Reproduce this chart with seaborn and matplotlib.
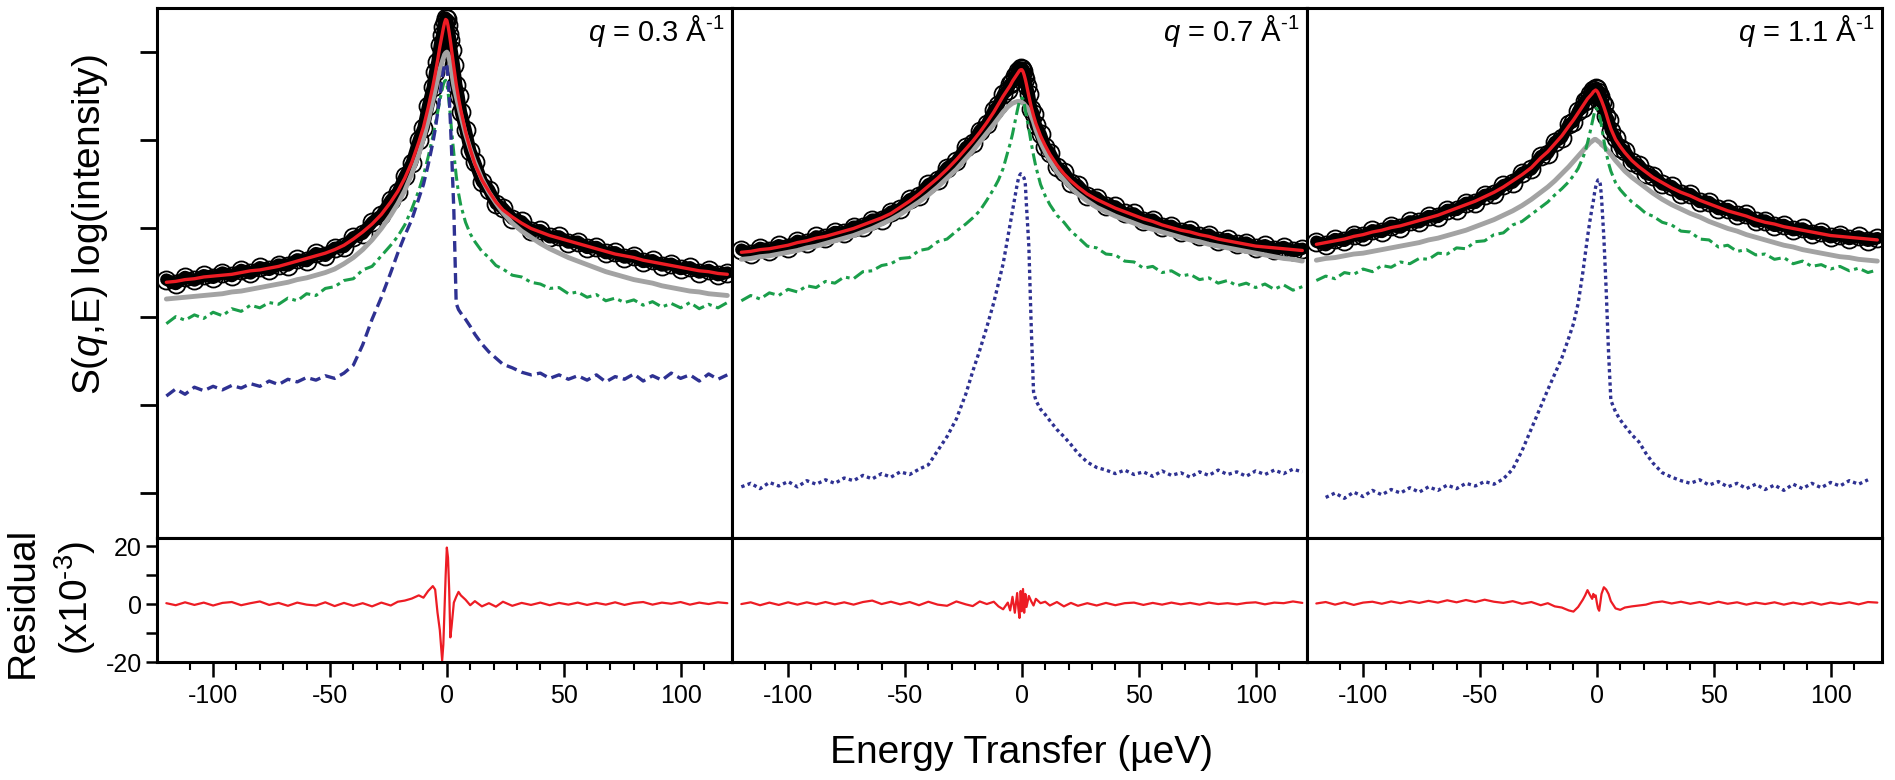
import numpy as np
import pandas as pd
import seaborn as sns
import matplotlib.pyplot as plt
from matplotlib.ticker import FixedLocator

sns.set_theme(style='ticks')
plt.rcParams['font.family'] = ['Liberation Sans', 'DejaVu Sans']
plt.rcParams['mathtext.fontset'] = 'custom'
plt.rcParams['mathtext.rm'] = 'Liberation Sans'
plt.rcParams['mathtext.it'] = 'Liberation Sans:italic'
plt.rcParams['axes.unicode_minus'] = False
plt.rcParams['axes.edgecolor'] = 'black'
plt.rcParams['axes.linewidth'] = 2.2
plt.rcParams['xtick.color'] = 'black'
plt.rcParams['ytick.color'] = 'black'
plt.rcParams['xtick.labelcolor'] = 'black'
plt.rcParams['ytick.labelcolor'] = 'black'
plt.rcParams['text.color'] = 'black'

nan = np.nan

# energy transfer grid (ueV), shared by every series
E = [-120, -116, -112, -108, -104, -100, -96, -92, -88, -84,
     -80, -76, -72, -68, -64, -60, -56, -52, -48, -44,
     -40, -36, -32, -28, -24, -21, -18, -15, -12, -10,
     -8, -6, -5, -4, -3, -2, -1.5, -1, -0.5, 0,
     0.5, 1, 1.5, 2, 3, 4, 5, 6, 8, 10,
     12, 15, 18, 21, 24, 28, 32, 36, 40, 44,
     48, 52, 56, 60, 64, 68, 72, 76, 80, 84,
     88, 92, 96, 100, 104, 108, 112, 116, 120]

q_values = ['0.3', '0.7', '1.1']

# ---- q = 0.3 (log10 intensity) ----
data_03 = [-2.58, -2.63, -2.55, -2.59, -2.53, -2.56, -2.50, -2.54, -2.47, -2.51,
           -2.44, -2.47, -2.41, -2.42, -2.35, -2.37, -2.28, -2.31, -2.22, -2.21,
           -2.10, -2.06, -1.93, -1.85, -1.68, -1.59, -1.41, -1.26, -1.00, -0.86,
           -0.61, -0.40, -0.23, -0.11, 0.08, 0.19, 0.29, 0.34, 0.39, 0.37,
           0.31, 0.21, 0.14, 0.02, -0.15, -0.37, -0.50, -0.68, -0.88, -1.12,
           -1.25, -1.47, -1.56, -1.72, -1.77, -1.89, -1.92, -2.03, -2.02, -2.10,
           -2.09, -2.16, -2.15, -2.22, -2.21, -2.28, -2.27, -2.33, -2.31, -2.38,
           -2.36, -2.42, -2.40, -2.46, -2.44, -2.50, -2.47, -2.53, -2.50]
fit_03 = [-2.61, -2.60, -2.58, -2.57, -2.55, -2.54, -2.53, -2.52, -2.50, -2.48,
          -2.47, -2.45, -2.43, -2.40, -2.37, -2.34, -2.31, -2.28, -2.24, -2.19,
          -2.12, -2.04, -1.95, -1.84, -1.70, -1.58, -1.43, -1.25, -1.02, -0.85,
          -0.63, -0.39, -0.25, -0.10, 0.06, 0.20, 0.27, 0.33, 0.37, 0.36,
          0.30, 0.22, 0.13, 0.03, -0.17, -0.36, -0.52, -0.66, -0.90, -1.10,
          -1.27, -1.45, -1.58, -1.70, -1.79, -1.87, -1.94, -2.00, -2.04, -2.08,
          -2.11, -2.14, -2.17, -2.20, -2.23, -2.26, -2.29, -2.31, -2.33, -2.36,
          -2.38, -2.40, -2.42, -2.44, -2.46, -2.48, -2.49, -2.51, -2.52]
gray_03 = [-2.80, -2.79, -2.78, -2.77, -2.76, -2.75, -2.74, -2.72, -2.71, -2.69,
           -2.67, -2.65, -2.63, -2.61, -2.58, -2.56, -2.53, -2.50, -2.46, -2.40,
           -2.33, -2.24, -2.13, -2.00, -1.85, -1.72, -1.57, -1.38, -1.16, -0.98,
           -0.78, -0.55, -0.43, -0.31, -0.20, -0.11, -0.07, -0.03, -0.01, 0.00,
           -0.02, -0.07, -0.14, -0.22, -0.38, -0.50, -0.61, -0.72, -0.93, -1.10,
           -1.25, -1.44, -1.59, -1.71, -1.82, -1.94, -2.03, -2.10, -2.17, -2.23,
           -2.28, -2.33, -2.37, -2.41, -2.45, -2.49, -2.52, -2.55, -2.58, -2.60,
           -2.62, -2.65, -2.67, -2.69, -2.71, -2.72, -2.74, -2.75, -2.76]
green_03 = [-3.08, -3.00, -3.04, -2.98, -3.02, -2.95, -2.99, -2.91, -2.94, -2.87,
            -2.90, -2.84, -2.86, -2.79, -2.82, -2.74, -2.76, -2.68, -2.66, -2.59,
            -2.57, -2.47, -2.43, -2.31, -2.19, -2.09, -1.96, -1.78, -1.57, -1.40,
            -1.19, -0.96, -0.83, -0.69, -0.55, -0.42, -0.37, -0.33, -0.32, -0.36,
            -0.45, -0.58, -0.72, -0.88, -1.15, -1.40, -1.60, -1.74, -1.93, -2.06,
            -2.15, -2.26, -2.33, -2.42, -2.46, -2.53, -2.55, -2.61, -2.63, -2.68,
            -2.67, -2.74, -2.72, -2.78, -2.75, -2.82, -2.79, -2.84, -2.81, -2.87,
            -2.83, -2.89, -2.85, -2.90, -2.84, -2.91, -2.86, -2.90, -2.84]
blue_03 = [-3.90, -3.82, -3.88, -3.80, -3.84, -3.79, -3.83, -3.78, -3.81, -3.76,
           -3.79, -3.73, -3.77, -3.71, -3.74, -3.69, -3.72, -3.67, -3.70, -3.64,
           -3.55, -3.32, -3.03, -2.78, -2.50, -2.28, -2.08, -1.90, -1.66, -1.50,
           -1.28, -1.03, -0.88, -0.70, -0.50, -0.30, -0.21, -0.15, -0.13, -0.16,
           -0.28, -0.50, -0.78, -1.10, -1.80, -2.85, -2.92, -2.96, -3.03, -3.11,
           -3.20, -3.31, -3.40, -3.47, -3.54, -3.58, -3.63, -3.66, -3.64, -3.70,
           -3.66, -3.71, -3.67, -3.72, -3.66, -3.74, -3.68, -3.71, -3.65, -3.73,
           -3.67, -3.72, -3.64, -3.70, -3.66, -3.73, -3.65, -3.71, -3.66]
resid_03 = [0.3, -0.4, 0.6, -0.3, 0.5, -0.5, 0.4, 0.7, -0.4, 0.3,
            0.9, -0.3, 0.4, -0.6, 0.5, -0.2, -0.5, 0.6, -0.7, 0.4,
            -0.6, 0.3, -0.8, 0.5, -0.5, 0.8, 1.2, 1.9, 3.0, 2.2,
            4.5, 6.2, 5.0, -2.9, -9.0, -19.5, -14.0, -2.0, 10.0, 19.5,
            16.0, 5.0, -11.5, -8.0, 0.5, 2.5, 4.2, 3.0, 1.5, -0.4,
            1.0, -0.8, 0.3, -0.9, 0.8, -0.6, 0.4, -0.3, 0.5, -0.4,
            0.4, -0.2, 0.5, -0.3, 0.4, -0.2, 0.6, -0.3, 0.4, 0.7,
            -0.2, 0.5, 0.1, 0.7, -0.2, 0.5, 0.0, 0.6, 0.3]

# ---- q = 0.7 ----
data_07 = [-2.24, -2.29, -2.22, -2.25, -2.19, -2.22, -2.14, -2.17, -2.09, -2.11,
           -2.04, -2.05, -1.98, -1.98, -1.90, -1.90, -1.81, -1.78, -1.67, -1.63,
           -1.50, -1.45, -1.31, -1.24, -1.08, -1.03, -0.89, -0.82, -0.66, -0.60,
           -0.48, -0.43, -0.36, -0.34, -0.27, -0.26, -0.21, -0.22, -0.18, -0.19,
           -0.21, -0.27, -0.30, -0.38, -0.48, -0.64, -0.70, -0.83, -0.93, -1.08,
           -1.14, -1.30, -1.36, -1.48, -1.51, -1.63, -1.65, -1.74, -1.75, -1.83,
           -1.83, -1.91, -1.90, -1.98, -1.97, -2.04, -2.02, -2.09, -2.07, -2.14,
           -2.12, -2.18, -2.16, -2.22, -2.19, -2.24, -2.21, -2.26, -2.23]
fit_07 = [-2.27, -2.26, -2.24, -2.23, -2.21, -2.19, -2.16, -2.14, -2.11, -2.09,
          -2.06, -2.03, -2.00, -1.96, -1.92, -1.88, -1.83, -1.76, -1.69, -1.61,
          -1.52, -1.43, -1.33, -1.22, -1.10, -1.01, -0.91, -0.80, -0.68, -0.59,
          -0.50, -0.42, -0.38, -0.33, -0.29, -0.25, -0.23, -0.21, -0.20, -0.20,
          -0.22, -0.26, -0.31, -0.37, -0.50, -0.62, -0.72, -0.81, -0.95, -1.06,
          -1.16, -1.28, -1.38, -1.46, -1.53, -1.61, -1.67, -1.72, -1.77, -1.81,
          -1.85, -1.89, -1.92, -1.96, -1.99, -2.02, -2.04, -2.07, -2.09, -2.12,
          -2.14, -2.16, -2.18, -2.20, -2.21, -2.22, -2.23, -2.24, -2.25]
gray_07 = [-2.35, -2.34, -2.32, -2.31, -2.29, -2.27, -2.25, -2.22, -2.20, -2.17,
           -2.14, -2.11, -2.08, -2.04, -2.00, -1.95, -1.90, -1.84, -1.77, -1.70,
           -1.62, -1.53, -1.43, -1.33, -1.21, -1.12, -1.02, -0.92, -0.82, -0.75,
           -0.68, -0.62, -0.60, -0.58, -0.57, -0.56, -0.56, -0.56, -0.56, -0.57,
           -0.58, -0.59, -0.61, -0.62, -0.66, -0.72, -0.79, -0.88, -1.02, -1.13,
           -1.23, -1.36, -1.45, -1.54, -1.61, -1.69, -1.76, -1.81, -1.86, -1.90,
           -1.94, -1.98, -2.01, -2.04, -2.07, -2.10, -2.13, -2.15, -2.18, -2.20,
           -2.22, -2.24, -2.26, -2.28, -2.30, -2.32, -2.34, -2.35, -2.37]
green_07 = [-2.82, -2.76, -2.80, -2.73, -2.76, -2.69, -2.72, -2.65, -2.67, -2.60,
            -2.62, -2.55, -2.57, -2.49, -2.48, -2.42, -2.40, -2.34, -2.33, -2.25,
            -2.23, -2.15, -2.12, -2.03, -1.95, -1.88, -1.80, -1.68, -1.55, -1.45,
            -1.32, -1.13, -1.04, -0.93, -0.80, -0.67, -0.61, -0.56, -0.53, -0.52,
            -0.53, -0.58, -0.66, -0.73, -0.87, -1.03, -1.17, -1.30, -1.50, -1.63,
            -1.73, -1.85, -1.93, -2.03, -2.10, -2.20, -2.22, -2.29, -2.30, -2.37,
            -2.38, -2.45, -2.43, -2.50, -2.48, -2.54, -2.52, -2.58, -2.56, -2.62,
            -2.59, -2.65, -2.62, -2.67, -2.63, -2.69, -2.64, -2.70, -2.66]
blue_07 = [-4.93, -4.89, -4.95, -4.88, -4.92, -4.87, -4.93, -4.86, -4.90, -4.85,
           -4.89, -4.83, -4.86, -4.80, -4.84, -4.78, -4.82, -4.76, -4.79, -4.73,
           -4.68, -4.52, -4.36, -4.16, -3.88, -3.62, -3.38, -3.12, -2.84, -2.62,
           -2.40, -2.10, -1.95, -1.80, -1.65, -1.50, -1.44, -1.40, -1.38, -1.39,
           -1.41, -1.43, -1.50, -1.75, -2.20, -3.10, -3.85, -3.95, -4.05, -4.11,
           -4.18, -4.28, -4.36, -4.45, -4.55, -4.65, -4.71, -4.74, -4.78, -4.74,
           -4.79, -4.76, -4.81, -4.75, -4.80, -4.77, -4.82, -4.76, -4.80, -4.74,
           -4.79, -4.76, -4.81, -4.75, -4.79, -4.74, -4.78, -4.73, -4.76]
resid_07 = [0.0, 0.6, -0.4, 0.5, -0.3, 0.6, -0.2, 0.6, -0.1, 0.7,
            -0.1, 0.6, -0.2, 0.7, 1.2, 0.0, 0.8, -0.1, 0.7, -0.4,
            0.8, -0.2, -0.6, 0.9, -0.1, -0.7, 0.9, 0.0, 0.8, -0.8,
            -1.8, 0.5, -2.2, 2.5, -3.0, 3.8, -1.5, -4.8, 4.5, -2.5,
            5.2, -3.0, 3.5, -1.0, 2.8, 1.0, -0.5, 1.8, 0.3, 0.8,
            -0.5, 0.7, -0.8, 0.4, -0.6, 0.3, -0.5, 0.4, -0.4, 0.3,
            0.5, -0.3, 0.4, -0.2, 0.5, -0.1, 0.4, -0.2, 0.5, 0.0,
            0.3, -0.1, 0.4, 0.6, -0.1, 0.5, 0.3, 0.9, 0.4]

# ---- q = 1.1 ----
data_11 = [-2.15, -2.19, -2.12, -2.14, -2.07, -2.09, -2.02, -2.04, -1.97, -1.99,
           -1.92, -1.93, -1.86, -1.87, -1.79, -1.79, -1.71, -1.71, -1.62, -1.61,
           -1.51, -1.48, -1.37, -1.33, -1.18, -1.15, -1.02, -0.97, -0.82, -0.79,
           -0.67, -0.63, -0.55, -0.54, -0.48, -0.48, -0.43, -0.45, -0.41, -0.42,
           -0.45, -0.50, -0.50, -0.57, -0.60, -0.72, -0.77, -0.89, -0.97, -1.09,
           -1.12, -1.25, -1.28, -1.38, -1.40, -1.50, -1.52, -1.61, -1.61, -1.70,
           -1.70, -1.78, -1.78, -1.85, -1.84, -1.92, -1.91, -1.97, -1.96, -2.02,
           -2.00, -2.06, -2.04, -2.10, -2.07, -2.12, -2.09, -2.14, -2.11]
fit_11 = [-2.18, -2.16, -2.14, -2.12, -2.09, -2.07, -2.04, -2.02, -1.99, -1.97,
          -1.94, -1.91, -1.88, -1.85, -1.81, -1.77, -1.73, -1.69, -1.64, -1.59,
          -1.53, -1.46, -1.39, -1.31, -1.20, -1.13, -1.04, -0.95, -0.84, -0.77,
          -0.69, -0.61, -0.57, -0.53, -0.50, -0.47, -0.45, -0.44, -0.43, -0.44,
          -0.46, -0.49, -0.52, -0.55, -0.62, -0.70, -0.79, -0.87, -0.99, -1.07,
          -1.14, -1.23, -1.30, -1.36, -1.42, -1.48, -1.54, -1.59, -1.63, -1.68,
          -1.72, -1.76, -1.80, -1.83, -1.86, -1.90, -1.93, -1.95, -1.98, -2.00,
          -2.02, -2.04, -2.06, -2.08, -2.09, -2.10, -2.11, -2.12, -2.13]
gray_11 = [-2.36, -2.34, -2.33, -2.31, -2.29, -2.28, -2.26, -2.24, -2.22, -2.20,
           -2.18, -2.16, -2.13, -2.11, -2.08, -2.05, -2.02, -1.98, -1.94, -1.90,
           -1.85, -1.80, -1.74, -1.67, -1.59, -1.53, -1.46, -1.38, -1.30, -1.24,
           -1.18, -1.12, -1.09, -1.06, -1.03, -1.01, -1.00, -0.99, -0.99, -1.00,
           -1.01, -1.02, -1.03, -1.05, -1.07, -1.10, -1.13, -1.16, -1.23, -1.29,
           -1.35, -1.42, -1.48, -1.54, -1.60, -1.67, -1.73, -1.78, -1.83, -1.87,
           -1.92, -1.96, -2.00, -2.03, -2.07, -2.10, -2.13, -2.16, -2.19, -2.21,
           -2.24, -2.26, -2.28, -2.30, -2.32, -2.33, -2.35, -2.36, -2.37]
green_11 = [-2.59, -2.54, -2.57, -2.50, -2.52, -2.46, -2.49, -2.42, -2.44, -2.38,
            -2.40, -2.34, -2.35, -2.28, -2.29, -2.22, -2.23, -2.15, -2.14, -2.07,
            -2.05, -1.96, -1.92, -1.84, -1.76, -1.70, -1.62, -1.55, -1.47, -1.40,
            -1.32, -1.20, -1.13, -1.03, -0.92, -0.80, -0.74, -0.68, -0.64, -0.64,
            -0.67, -0.71, -0.76, -0.84, -1.00, -1.14, -1.26, -1.35, -1.48, -1.56,
            -1.62, -1.70, -1.76, -1.83, -1.86, -1.93, -1.96, -2.03, -2.04, -2.12,
            -2.13, -2.21, -2.19, -2.26, -2.24, -2.30, -2.29, -2.35, -2.33, -2.40,
            -2.37, -2.43, -2.41, -2.46, -2.43, -2.48, -2.45, -2.50, -2.47]
blue_11 = [nan, -5.05, -5.00, -5.06, -4.99, -5.04, -4.97, -5.02, -4.96, -5.00,
           -4.94, -4.99, -4.93, -4.97, -4.91, -4.95, -4.89, -4.92, -4.87, -4.90,
           -4.84, -4.73, -4.52, -4.27, -4.02, -3.83, -3.65, -3.47, -3.24, -3.08,
           -2.85, -2.50, -2.30, -2.10, -1.92, -1.76, -1.69, -1.60, -1.53, -1.48,
           -1.45, -1.45, -1.50, -1.65, -2.10, -2.70, -3.40, -3.95, -4.08, -4.17,
           -4.24, -4.34, -4.42, -4.55, -4.66, -4.77, -4.82, -4.86, -4.89, -4.85,
           -4.91, -4.87, -4.93, -4.89, -4.95, -4.90, -4.96, -4.91, -4.97, -4.90,
           -4.95, -4.89, -4.94, -4.88, -4.92, -4.86, -4.90, -4.85, nan]
resid_11 = [0.2, 0.7, -0.2, 0.6, -0.3, 0.5, 0.8, 0.1, 0.9, 0.3,
            1.0, 0.4, 1.1, 0.5, 1.3, 0.6, 1.4, 0.7, 1.5, 0.8,
            0.4, 1.0, 0.1, 0.7, -0.4, 0.3, -0.8, -1.2, -2.2, -2.6,
            -1.0, 1.5, 3.0, 4.8, 3.2, 1.8, 3.5, 2.5, 3.0, 0.5,
            -1.5, -2.3, 0.5, 3.5, 5.8, 5.0, 3.5, 1.0, -1.5, -2.0,
            -1.2, -0.8, -0.5, -0.2, 0.5, 0.9, 0.2, 0.8, 0.1, 0.7,
            0.0, 0.8, 0.1, 0.6, -0.2, 0.5, 0.0, 0.6, -0.2, 0.5,
            -0.1, 0.6, -0.2, 0.5, 0.0, 0.6, -0.1, 0.7, 0.5]

all_data = [data_03, data_07, data_11]
all_fit = [fit_03, fit_07, fit_11]
all_gray = [gray_03, gray_07, gray_11]
all_green = [green_03, green_07, green_11]
all_blue = [blue_03, blue_07, blue_11]
all_resid = [resid_03, resid_07, resid_11]

RED = '#ed1c24'
GREEN = '#1a9e4a'
BLUE = '#2e3192'
GRAY = '#a3a3a3'
blue_dashes = [(3.2, 1.6), (1.0, 1.0), (1.0, 1.0)]

fig = plt.figure(figsize=(18.95, 7.8), dpi=100)
x0 = 157 / 1895
w = 575 / 1895

for i, q in enumerate(q_values):
    df = pd.DataFrame({'E': E, 'data': all_data[i], 'fit': all_fit[i],
                       'gray': all_gray[i], 'green': all_green[i],
                       'blue': all_blue[i], 'resid': all_resid[i]})

    ax = fig.add_axes([x0 + i * w, 242 / 780, w, 530 / 780])
    axr = fig.add_axes([x0 + i * w, 118 / 780, w, 124 / 780])

    # measured data: open circles on a thick black band
    sns.lineplot(data=df, x='E', y='data', ax=ax, color='black', lw=9,
                 marker='o', markersize=13, markerfacecolor='none',
                 markeredgecolor='black', markeredgewidth=1.3, errorbar=None)
    sns.lineplot(data=df, x='E', y='gray', ax=ax, color=GRAY, lw=3.5, errorbar=None)
    sns.lineplot(data=df, x='E', y='fit', ax=ax, color=RED, lw=2.4, errorbar=None)
    sns.lineplot(data=df, x='E', y='green', ax=ax, color=GREEN, lw=2.2, errorbar=None)
    ax.lines[-1].set_dashes((4, 1.5, 1.2, 1.5))
    sns.lineplot(data=df, x='E', y='blue', ax=ax, color=BLUE, lw=2.4, errorbar=None)
    ax.lines[-1].set_dashes(blue_dashes[i])

    ax.set_xlim(-124, 122)
    ax.set_ylim(-5.51, 0.50)
    ax.set(xlabel='', ylabel='')
    ax.set_xticks([])
    if i == 0:
        ax.set_yticks(range(-5, 1))
        ax.set_yticklabels([])
        ax.tick_params(axis='y', direction='out', length=12, width=2)
    else:
        ax.set_yticks([])
    ax.text(0.988, 0.938, r'$q$ = ' + q + r' Å$^{\text{-1}}$', transform=ax.transAxes,
            ha='right', va='baseline', fontsize=21)

    # residual
    sns.lineplot(data=df, x='E', y='resid', ax=axr, color=RED, lw=1.6, errorbar=None)
    axr.set_xlim(-124, 122)
    axr.set_ylim(-20, 22.8)
    axr.set(xlabel='', ylabel='')
    axr.xaxis.set_major_locator(FixedLocator([-100, -50, 0, 50, 100]))
    axr.xaxis.set_minor_locator(FixedLocator([-110, -90, -80, -70, -60, -40, -30, -20, -10,
                                              10, 20, 30, 40, 60, 70, 80, 90, 110]))
    axr.tick_params(axis='x', which='major', direction='out', length=11, width=1.8,
                    labelsize=18, pad=5)
    axr.tick_params(axis='x', which='minor', direction='out', length=6, width=1.5)
    if i == 0:
        axr.yaxis.set_major_locator(FixedLocator([-20, 0, 20]))
        axr.yaxis.set_minor_locator(FixedLocator([-10, 10]))
        axr.tick_params(axis='y', which='both', direction='out', length=8, width=1.8,
                        labelsize=18, pad=3)
    else:
        axr.set_yticks([])

fig.text(1022 / 1895, 17 / 780, 'Energy Transfer (µeV)', ha='center', va='baseline',
         fontsize=28)
fig.text(90 / 1895, 1 - 225 / 780, r'S($q$,E) log(intensity)', rotation=90,
         ha='center', va='center', fontsize=28)
fig.text(23 / 1895, 1 - 602 / 780, 'Residual', rotation=90, ha='center', va='center',
         fontsize=28)
fig.text(75 / 1895, 1 - 598 / 780, r'(x10$^{\text{-3}}$)', rotation=90, ha='center',
         va='center', fontsize=28)

fig.savefig('out.png', dpi=100)
